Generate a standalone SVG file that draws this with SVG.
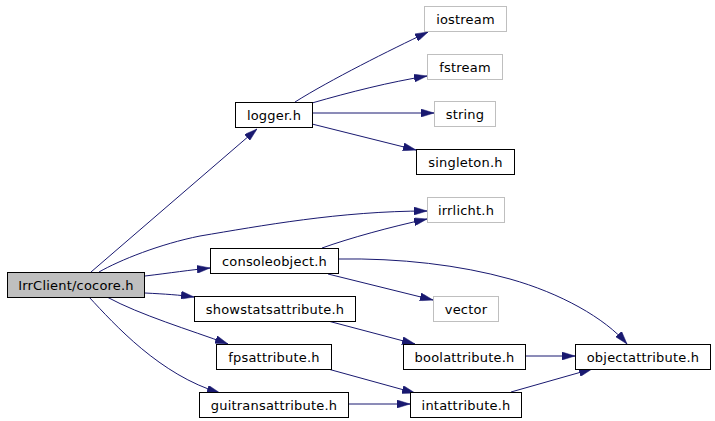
<svg xmlns="http://www.w3.org/2000/svg" width="715" height="421" viewBox="0 0 715 421">
<style>
.n rect{fill:#ffffff;stroke:#000000;stroke-width:1}
.n.ext rect{stroke:#bfbfbf}
.n.root rect{fill:#bfbfbf}
.n text{font-family:"DejaVu Sans",sans-serif;font-size:13px;letter-spacing:0.2px;text-anchor:middle;fill:#000000}
#edges path{fill:none;stroke:#191970;stroke-width:1;marker-end:url(#arr)}
</style>
<defs>
<marker id="arr" markerUnits="userSpaceOnUse" markerWidth="13" markerHeight="8" refX="13" refY="4" orient="auto">
<path d="M0,0 L13,4 L0,8 z" fill="#191970" stroke="#191970" stroke-width="0.5"/>
</marker>
</defs>
<rect width="715" height="421" fill="#ffffff"/>
<g id="edges">
<path d="M91,272 L257,129"/>
<path d="M99,272 C120,260 160,244 200,236 C260,226 340,211 427,211"/>
<path d="M145,276 C170,273 190,270 210,268"/>
<path d="M145,293 C165,294 180,295 194,297"/>
<path d="M107,297 C140,315 190,330 228,344"/>
<path d="M89,297 C115,325 160,375 220,393"/>
<path d="M295,102 C330,80 390,50 428,32"/>
<path d="M312,103 C350,92 390,82 427,76"/>
<path d="M312,113 L434,113"/>
<path d="M312,124 L416,150"/>
<path d="M322,248 C350,238 390,227 427,219"/>
<path d="M328,274 L433,300"/>
<path d="M338,259 C400,258 460,265 510,279 C560,293 605,318 627,344"/>
<path d="M328,321 L415,344"/>
<path d="M328,369 L415,393"/>
<path d="M348,404 L410,404"/>
<path d="M525,356 L575,356"/>
<path d="M511,392 L592,369"/>
</g>
<g id="cocore" class="n root"><rect x="7.5" y="272.5" width="137" height="25"/><text x="76" y="290">IrrClient/cocore.h</text></g>
<g id="logger" class="n"><rect x="235.5" y="102.5" width="77" height="25"/><text x="274" y="120">logger.h</text></g>
<g id="iostream" class="n ext"><rect x="424.5" y="6.5" width="82" height="25"/><text x="465.5" y="24">iostream</text></g>
<g id="fstream" class="n ext"><rect x="427.5" y="54.5" width="75" height="25"/><text x="465" y="72">fstream</text></g>
<g id="string" class="n ext"><rect x="434.5" y="101.5" width="61" height="25"/><text x="465" y="119">string</text></g>
<g id="singleton" class="n"><rect x="416.5" y="149.5" width="98" height="25"/><text x="465.5" y="167">singleton.h</text></g>
<g id="irrlicht" class="n ext"><rect x="427.5" y="197.5" width="77" height="25"/><text x="466" y="215">irrlicht.h</text></g>
<g id="consoleobject" class="n"><rect x="210.5" y="248.5" width="128" height="25"/><text x="274.5" y="266">consoleobject.h</text></g>
<g id="vector" class="n ext"><rect x="433.5" y="296.5" width="65" height="25"/><text x="466" y="314">vector</text></g>
<g id="showstatsattribute" class="n"><rect x="194.5" y="296.5" width="161" height="25"/><text x="275" y="314">showstatsattribute.h</text></g>
<g id="fpsattribute" class="n"><rect x="216.5" y="344.5" width="115" height="25"/><text x="274" y="362">fpsattribute.h</text></g>
<g id="boolattribute" class="n"><rect x="403.5" y="344.5" width="122" height="25"/><text x="464.5" y="362">boolattribute.h</text></g>
<g id="objectattribute" class="n"><rect x="575.5" y="344.5" width="135" height="25"/><text x="643" y="362">objectattribute.h</text></g>
<g id="guitransattribute" class="n"><rect x="199.5" y="392.5" width="149" height="25"/><text x="274" y="410">guitransattribute.h</text></g>
<g id="intattribute" class="n"><rect x="410.5" y="392.5" width="111" height="25"/><text x="466" y="410">intattribute.h</text></g>
</svg>
